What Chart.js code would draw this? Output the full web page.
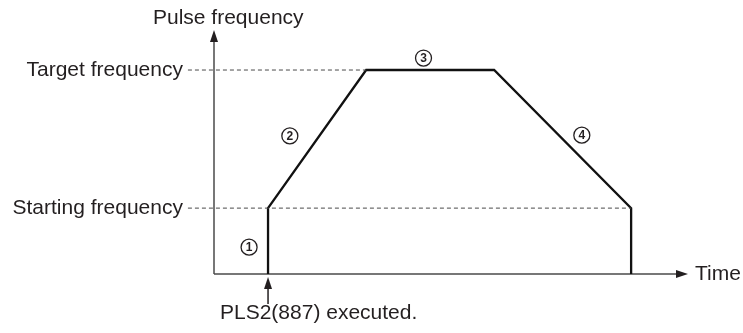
<!DOCTYPE html>
<html>
<head>
<meta charset="utf-8">
<script src="https://cdn.jsdelivr.net/npm/chart.js@4/dist/chart.umd.min.js"></script>
<style>
body{margin:0;background:#fff;}
canvas{display:block;}
</style>
</head>
<body>
<canvas id="chart" width="743" height="333"></canvas>
<script>
// trapezoid profile (time, pulse frequency), arbitrary units 0..100
var timePoints = [11.4, 11.4, 32.1, 59.1, 88.0, 88.0];
var pulseFreq = [0, 27, 83.6, 83.6, 27, 0];
var startingFreq = 27;
var targetFreq = 83.6;
var guideStart = -5.5;
var phaseLabels = ["1", "2", "3", "4"];
var phaseX = [7.4, 16.0, 44.2, 77.6];
var phaseY = [11.0, 56.6, 88.5, 56.9];

var ink = "#231f20";
var axisGray = "#4a4a4a";
var font = '21px "Liberation Sans", Arial, sans-serif';

function pts(xs, ys){
	var out = [];
	for(var i=0;i<xs.length;i++) out.push({x:xs[i], y:ys[i]});
	return out;
}

var decor = {
	id:"decor",
	beforeDatasetsDraw:function(chart){
		var c = chart.ctx, a = chart.chartArea;
		c.save();
		c.strokeStyle = axisGray;
		c.fillStyle = ink;
		c.lineWidth = 1.5;
		// y axis
		c.beginPath(); c.moveTo(a.left, a.bottom); c.lineTo(a.left, a.top+8); c.stroke();
		c.beginPath(); c.moveTo(a.left, a.top); c.lineTo(a.left-4, a.top+12); c.lineTo(a.left+4, a.top+12); c.closePath(); c.fill();
		// x axis
		c.beginPath(); c.moveTo(a.left, a.bottom); c.lineTo(a.right-8, a.bottom); c.stroke();
		c.beginPath(); c.moveTo(a.right, a.bottom); c.lineTo(a.right-12, a.bottom-4); c.lineTo(a.right-12, a.bottom+4); c.closePath(); c.fill();
		c.restore();
	},
	afterDatasetsDraw:function(chart){
		var c = chart.ctx, a = chart.chartArea;
		var xs = chart.scales.x, ys = chart.scales.y;
		c.save();
		c.fillStyle = ink;
		c.font = font;
		c.textBaseline = "middle";
		c.textAlign = "left";
		c.fillText("Pulse frequency", 153, 18);
		c.fillText("Time", a.right+7, a.bottom);
		c.textAlign = "right";
		c.fillText("Target frequency", xs.getPixelForValue(guideStart)-5, ys.getPixelForValue(targetFreq));
		c.fillText("Starting frequency", xs.getPixelForValue(guideStart)-5, ys.getPixelForValue(startingFreq));
		// execution marker
		var ex = xs.getPixelForValue(timePoints[0]);
		c.strokeStyle = ink;
		c.lineWidth = 1.5;
		c.beginPath(); c.moveTo(ex, a.bottom+14); c.lineTo(ex, a.bottom+30); c.stroke();
		c.beginPath(); c.moveTo(ex, a.bottom+3); c.lineTo(ex-4, a.bottom+15); c.lineTo(ex+4, a.bottom+15); c.closePath(); c.fill();
		c.textAlign = "left";
		c.fillText("PLS2(887) executed.", 220, 313);
		// circled phase numbers
		c.lineWidth = 1.3;
		for(var i=0;i<phaseLabels.length;i++){
			var px = xs.getPixelForValue(phaseX[i]), py = ys.getPixelForValue(phaseY[i]);
			c.beginPath(); c.arc(px, py, 8, 0, Math.PI*2); c.stroke();
			c.font = 'bold 12px "Liberation Sans", Arial, sans-serif';
			c.textAlign = "center";
			c.fillText(phaseLabels[i], px, py+0.5);
		}
		c.restore();
	}
};

new Chart(document.getElementById("chart"), {
	type:"line",
	data:{
		datasets:[{
			data:pts([guideStart, timePoints[2]], [targetFreq, targetFreq]),
			borderColor:axisGray, borderWidth:1, borderDash:[4,3], clip:false
		},{
			data:pts([guideStart, timePoints[4]], [startingFreq, startingFreq]),
			borderColor:axisGray, borderWidth:1, borderDash:[4,3], clip:false
		},{
			data:pts(timePoints, pulseFreq),
			borderColor:"#111", borderWidth:2.3, borderJoinStyle:"miter", clip:false
		}]
	},
	options:{
		responsive:false,
		animation:false,
		devicePixelRatio:1,
		layout:{padding:{left:214, right:55, top:30, bottom:59}},
		elements:{point:{radius:0}, line:{tension:0}},
		plugins:{legend:{display:false}, tooltip:{enabled:false}},
		scales:{
			x:{type:"linear", min:0, max:100, display:false},
			y:{type:"linear", min:0, max:100, display:false}
		}
	},
	plugins:[decor]
});
</script>
</body>
</html>
